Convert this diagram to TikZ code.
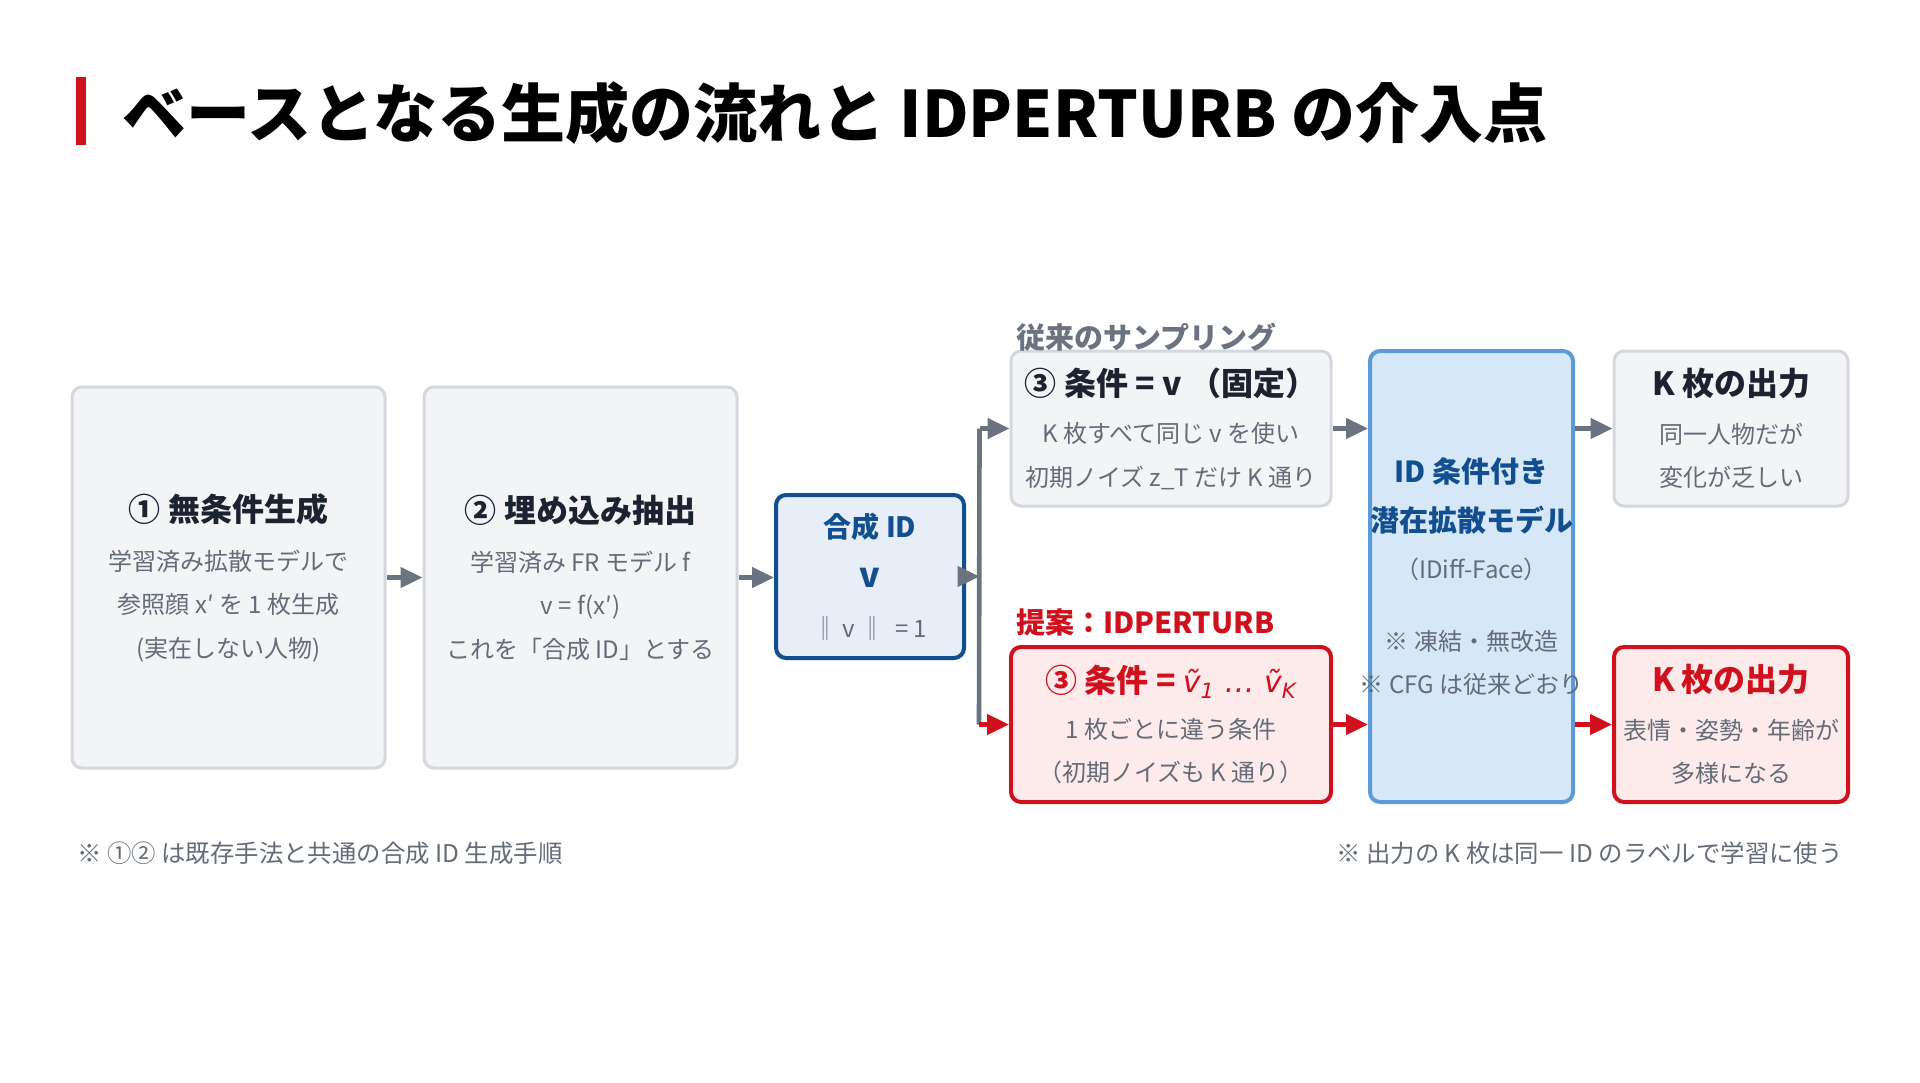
\documentclass[tikz,border=0pt]{standalone}
\usepackage{fontspec}
\setmainfont{Noto Sans CJK JP}
\newfontfamily\vecfont{DejaVu Sans}
\usetikzlibrary{positioning, arrows.meta}

\definecolor{boxgray}{HTML}{F3F4F6}
\definecolor{linegray}{HTML}{D4D8DE}
\definecolor{arrowgray}{HTML}{6B7280}
\definecolor{textgray}{HTML}{646C78}
\definecolor{darktext}{HTML}{1C2230}
\definecolor{idblue}{HTML}{124F91}
\definecolor{idfill}{HTML}{E7EEF8}
\definecolor{modelfill}{HTML}{D6E7F8}
\definecolor{modelline}{HTML}{5E9BD6}
\definecolor{propred}{HTML}{D0111D}
\definecolor{redfill}{HTML}{FDEBEC}

\begin{document}
\begin{tikzpicture}
    [
        x=0.5pt, y=-0.5pt,
        box/.style={rounded corners=5pt, align=center, inner sep=0pt, text=textgray, font=\fontsize{12}{21.7}\selectfont},
        gray_box/.style={box, draw=linegray, fill=boxgray, line width=1.5pt},
        id_box/.style={box, draw=idblue, fill=idfill, line width=2pt, font=\fontsize{12}{25}\selectfont},
        model_box/.style={box, draw=modelline, fill=modelfill, line width=2pt},
        red_box/.style={box, draw=propred, fill=redfill, line width=2pt},
        gray_arrow/.style={-{Triangle[length=11pt,width=10pt]}, line width=2.3pt, draw=arrowgray},
        red_arrow/.style={-{Triangle[length=11pt,width=10pt]}, line width=2.3pt, draw=propred},
        note/.style={inner sep=0pt, text=textgray, font=\fontsize{12.2}{14}\selectfont},
    ]
        \useasboundingbox[fill=white] (0,0) rectangle (1920,1082);

        % title
        \node[fill=propred, minimum width=5pt, minimum height=34pt, inner sep=0pt] (title_bar) at (81,111) {};
        \node[anchor=west, inner sep=0pt, font=\bfseries\fontsize{32}{38}\selectfont] (title) at (122,113) {ベースとなる生成の流れと IDPERTURB の介入点};

        % boxes
        \node[gray_box, minimum width=156.5pt, minimum height=190.5pt] (gen) at (228.5,577.5)
            {{\bfseries\fontsize{16}{20}\selectfont\color{darktext}① 無条件生成}\\[3pt]
             学習済み拡散モデルで\\ 参照顔 x′ を 1 枚生成\\ (実在しない人物)};
        \node[gray_box, minimum width=156.5pt, minimum height=190.5pt] (embed) at (580.5,577.5)
            {{\bfseries\fontsize{16}{20}\selectfont\color{darktext}② 埋め込み抽出}\\[3pt]
             学習済み FR モデル f\\ v = f(x′)\\ これを「合成 ID」とする};
        \node[id_box, minimum width=94pt, minimum height=81.5pt] (synth) at (870,576.5)
            {{\bfseries\fontsize{14}{18}\selectfont\color{idblue}合成 ID}\\
             {\bfseries\fontsize{17}{20}\selectfont\color{idblue}v}\\
             ‖ v ‖ \ = 1};
        \node[gray_box, minimum width=160pt, minimum height=77.5pt] (fixed) at (1171,428.5)
            {{\bfseries\fontsize{16}{20}\selectfont\color{darktext}③ 条件 = v （固定）}\\[2pt]
             K 枚すべて同じ v を使い\\ 初期ノイズ z\_T だけ K 通り};
        \node[red_box, minimum width=160pt, minimum height=77.5pt] (perturb) at (1171,724.5)
            {{\bfseries\fontsize{16}{20}\selectfont\color{propred}③ 条件 = {\mdseries\vecfont\itshape\fontsize{15}{20}\selectfont ṽ\textsubscript{1} … ṽ\textsubscript{K}}}\\[1pt]
             1 枚ごとに違う条件\\ （初期ノイズも K 通り）};
        \node[model_box, minimum width=101.5pt, minimum height=225.5pt] (model) at (1471.5,576.5) {};
        \node[align=center, inner sep=0pt, text=textgray, font=\fontsize{12}{21.7}\selectfont] (model_text) at (model.center)
            {{\bfseries\fontsize{14.5}{18}\selectfont\color{idblue}ID 条件付き}\\[3pt]
             {\bfseries\fontsize{14.5}{18}\selectfont\color{idblue}潜在拡散モデル}\\[2pt]
             （IDiff-Face）\\[14pt]
             ※ 凍結・無改造\\ ※ CFG は従来どおり};
        \node[gray_box, minimum width=117pt, minimum height=77.5pt] (out_same) at (1731,428.5)
            {{\bfseries\fontsize{16}{20}\selectfont\color{darktext}K 枚の出力}\\[2pt]
             同一人物だが\\ 変化が乏しい};
        \node[red_box, minimum width=117pt, minimum height=77.5pt] (out_diverse) at (1731,724.5)
            {{\bfseries\fontsize{16}{20}\selectfont\color{propred}K 枚の出力}\\[2pt]
             表情・姿勢・年齢が\\ 多様になる};

        % branch labels
        \node[anchor=west, inner sep=0pt, text=arrowgray, font=\bfseries\fontsize{14.5}{18}\selectfont] (conv_label) at (1016,337) {従来のサンプリング};
        \node[anchor=west, inner sep=0pt, text=propred, font=\bfseries\fontsize{14.5}{18}\selectfont] (prop_label) at (1016,622) {提案：IDPERTURB};

        % notes
        \node[note, anchor=west] (note_left) at (77,853) {※ ①② は既存手法と共通の合成 ID 生成手順};
        \node[note, anchor=east] (note_right) at (1843,853) {※ 出力の K 枚は同一 ID のラベルで学習に使う};

        % connectors
        \path (fixed.west) ++(-30,0) coordinate (split_top);
        \path (perturb.west) ++(-30,0) coordinate (split_bot);
        \draw[gray_arrow] (gen.east) -- (gen.east -| embed.west) ;
        \draw[gray_arrow] (embed.east) -- (embed.east -| synth.west) ;
        \draw[line width=2.3pt, draw=arrowgray] (split_top) -- (split_bot) ;
        \draw[gray_arrow] (synth.east) -- (synth.east -| split_top) ;
        \draw[gray_arrow] (split_top) -- (fixed.west) ;
        \draw[red_arrow] (split_bot) -- (perturb.west) ;
        \draw[gray_arrow] (fixed.east) -- (fixed.east -| model.west) ;
        \draw[red_arrow] (perturb.east) -- (perturb.east -| model.west) ;
        \draw[gray_arrow] (model.east |- out_same.west) -- (out_same.west) ;
        \draw[red_arrow] (model.east |- out_diverse.west) -- (out_diverse.west) ;
\end{tikzpicture}
\end{document}
